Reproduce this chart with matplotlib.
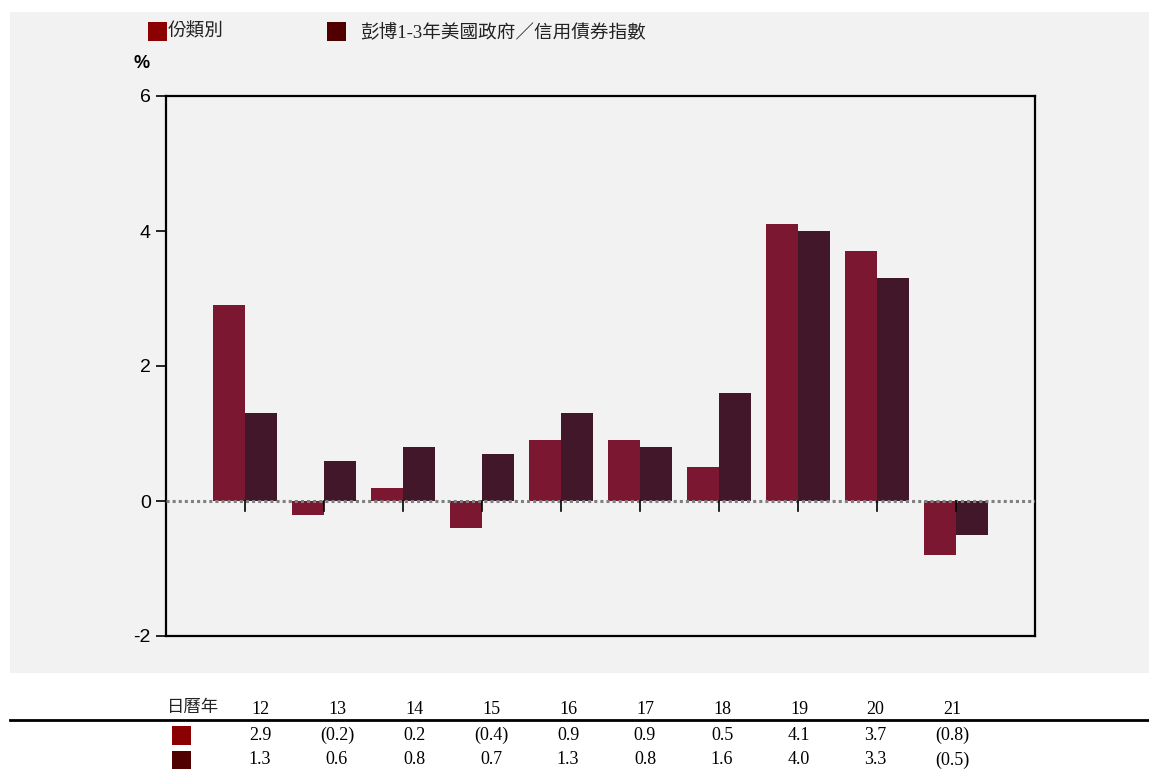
import numpy as np
import matplotlib
matplotlib.use("Agg")
import matplotlib.pyplot as plt
import matplotlib.patches as mpatches

# Data
years = ["12", "13", "14", "15", "16", "17", "18", "19", "20", "21"]
fund_ret = [2.9, -0.2, 0.2, -0.4, 0.9, 0.9, 0.5, 4.1, 3.7, -0.8]
index_ret = [1.3, 0.6, 0.8, 0.7, 1.3, 0.8, 1.6, 4.0, 3.3, -0.5]
label_fund = "份類別"
label_index = "彭博1-3年美國政府／信用債券指數"
row_header = "日曆年"

RED_BAR = "#7B1730"
DARK_BAR = "#43172A"
RED_KEY = "#8B0000"
DARK_KEY = "#500000"
PANEL = "#F2F2F2"

CJK = ["Liberation Serif", "Noto Sans CJK TC", "DejaVu Sans"]
NARROW = ["Liberation Sans Narrow", "Liberation Sans", "DejaVu Sans"]

W, H = 1149, 769
fig = plt.figure(figsize=(W / 100, H / 100), dpi=100)
fig.patch.set_facecolor("white")


def fx(px):
    return px / W


def fy(py):
    return 1 - py / H


# gray panel behind chart
fig.patches.append(mpatches.Rectangle((fx(10), fy(673)), fx(1149) - fx(10), fy(12) - fy(673),
                                      transform=fig.transFigure, facecolor=PANEL,
                                      edgecolor="none", zorder=-5))

ax = fig.add_axes([fx(166), fy(636), fx(1035) - fx(166), fy(96) - fy(636)])
ax.set_facecolor(PANEL)
ax.set_zorder(2)

x = np.arange(len(years))
w = 0.405
ax.bar(x - w / 2, fund_ret, width=w, color=RED_BAR, edgecolor="none", zorder=2)
ax.bar(x + w / 2, index_ret, width=w, color=DARK_BAR, edgecolor="none", zorder=2)
ax.axhline(0, color="#808080", linestyle=(0, (1, 1)), linewidth=2.2, zorder=3)

ax.set_xlim(-1, 10)
ax.set_ylim(-2, 6)
ax.set_yticks([-2, 0, 2, 4, 6])
ax.set_yticklabels(["-2", "0", "2", "4", "6"], family=NARROW, fontsize=14)
ax.set_xticks([])
# category tick marks hanging below the zero line
for xi in x:
    ax.plot([xi, xi], [0, -0.15], color="black", linewidth=1.2, zorder=4)
ax.tick_params(axis="y", direction="out", length=7, width=1.2, pad=4)
for s in ax.spines.values():
    s.set_linewidth(1.6)
    s.set_color("black")

fig.text(fx(133), fy(63), "%", family=NARROW, fontsize=13, fontweight="bold",
         va="center", ha="left")

# legend
for sx, col, lab, tx in [(148, RED_KEY, label_fund, 168), (327, DARK_KEY, label_index, 360)]:
    fig.patches.append(mpatches.Rectangle((fx(sx), fy(41)), fx(19), fy(22) - fy(41),
                                          transform=fig.transFigure, facecolor=col,
                                          edgecolor="none", zorder=3))
    fig.text(fx(tx), fy(32), lab, family=CJK, fontsize=13.4, va="center", ha="left",
             color="#222222")

# table below
col_x = [260, 337, 414, 491, 568, 645, 722, 799, 875, 952]


def fmt(v):
    return f"({abs(v):.1f})" if v < 0 else f"{v:.1f}"


fig.text(fx(193), fy(708), row_header, family=CJK, fontsize=12.5, ha="center", va="center",
         color="#222222")
for cx, yr, a, b in zip(col_x, years, fund_ret, index_ret):
    fig.text(fx(cx), fy(710), yr, family=CJK, fontsize=13, ha="center", va="center")
    fig.text(fx(cx), fy(735), fmt(a), family=CJK, fontsize=13, ha="center", va="center")
    fig.text(fx(cx), fy(760), fmt(b), family=CJK, fontsize=13, ha="center", va="center")

fig.add_artist(plt.Line2D([fx(10), fx(1149)], [fy(720), fy(720)], color="black",
                          linewidth=2, transform=fig.transFigure))
for sy, col in [(726, RED_KEY), (751, DARK_KEY)]:
    fig.patches.append(mpatches.Rectangle((fx(172), fy(sy + 19)), fx(19), fy(sy) - fy(sy + 19),
                                          transform=fig.transFigure, facecolor=col,
                                          edgecolor="none"))

fig.savefig("out.png", dpi=100, facecolor="white")
